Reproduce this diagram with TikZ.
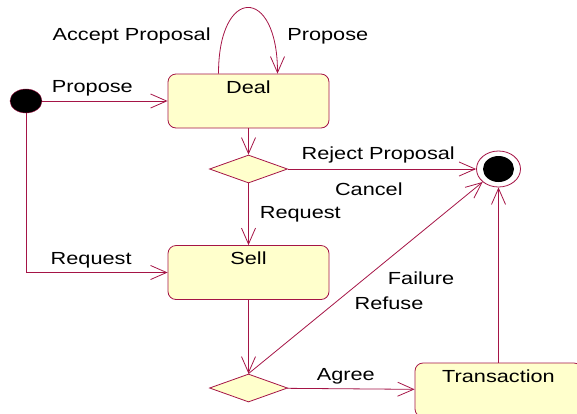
\documentclass[tikz,border=0pt]{standalone}
\usepackage{fontspec}
\setmainfont{Liberation Sans}[FakeStretch=1.24]
\usetikzlibrary{shapes.geometric,arrows.meta}
\definecolor{umlred}{RGB}{165,20,70}
\definecolor{umlfill}{RGB}{255,255,204}
\begin{document}
\begin{tikzpicture}[x=1pt,y=-1pt,font=\fontsize{17.5}{20}\selectfont,
	state/.style={draw=umlred,fill=umlfill,rounded corners=8pt,line width=0.8pt,
		minimum width=161pt,text height=13pt,text depth=29pt,inner xsep=0pt,inner ysep=6pt},
	choice/.style={diamond,draw=umlred,fill=umlfill,line width=0.8pt,
		minimum width=78pt,minimum height=28pt,inner sep=0pt},
	trans/.style={draw=umlred,line width=0.8pt,-{Straight Barb[length=16pt,width=14pt]}},
	lbl/.style={inner sep=4pt}]
\useasboundingbox (0,0) rectangle (577,413);
\clip (0,0) rectangle (577,413);
\node [ellipse,draw=umlred,fill=black,minimum width=32pt,minimum height=24pt,inner sep=0pt] (start) at (26,101) {};
\node [state] (deal) at (248.5,101) {Deal};
\node [choice] (d1) at (248.5,169) {};
\node [state] (sell) at (248.5,272.5) {Sell};
\node [choice] (d2) at (248.5,388) {};
\node [state,minimum width=167pt] (transact) at (498.5,390) {Transaction};
\node [ellipse,draw=umlred,fill=white,line width=0.8pt,minimum width=44pt,minimum height=36pt,inner sep=0pt] (final) at (498.5,169) {};
\node [ellipse,fill=black,minimum width=31pt,minimum height=26pt,inner sep=0pt] (finaldot) at (final) {};
\draw [trans] (start) -- node [lbl,above,pos=0.4] {Propose} (deal);
\draw [trans] ([xshift=-30pt]deal.north) .. controls +(0,-88) and +(0,-88) .. ([xshift=29pt]deal.north)
	node [lbl,left=8pt,pos=0.17] {Accept Proposal}
	node [lbl,right=10pt,pos=0.83] {Propose};
\draw [trans] (deal.south) -- (d1.north);
\draw [trans] (d1) -- node [lbl,above=1pt,pos=0.48] {Reject Proposal}
	node [lbl,below=9pt,pos=0.43] {Cancel} (final);
\draw [trans] (d1.south) -- node [lbl,right=7pt] {Request} (sell.north);
\draw [trans] (start) |- node [lbl,above,pos=0.73] {Request} (sell);
\draw [trans] (sell.south) -- (d2.north);
\draw [trans] (d2.north) -- node [lbl,anchor=west,xshift=18pt,pos=0.5] {Failure}
	node [lbl,anchor=west,xshift=16pt,pos=0.366] {Refuse} (final);
\draw [trans] (d2) -- node [lbl,above,pos=0.46] {Agree} (transact);
\draw [trans] (transact.north) -- (final.south);
\end{tikzpicture}
\end{document}
